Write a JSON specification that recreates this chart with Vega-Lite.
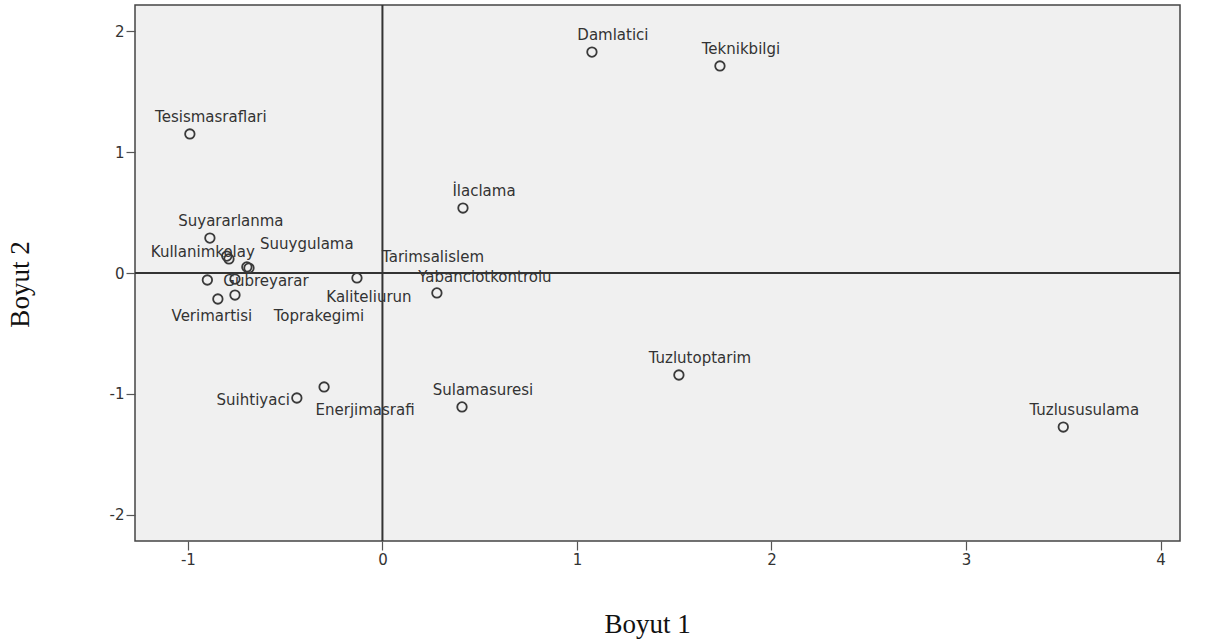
{
  "$schema": "https://vega.github.io/schema/vega-lite/v6.json",
  "width": 1045,
  "height": 536,
  "autosize": {"type": "none"},
  "padding": {"left": 135, "top": 5, "right": 31, "bottom": 101},
  "background": "white",
  "config": {
    "view": {"fill": "#f0f0f0", "stroke": "#444444", "strokeWidth": 1.5},
    "axis": {
      "grid": false, "domain": false,
      "tickColor": "#555555", "tickSize": 9, "tickWidth": 1.2,
      "labelFont": "DejaVu Sans", "labelFontSize": 15, "labelColor": "#333333", "labelPadding": 2,
      "labelExpr": "replace(datum.label, '\u2212', '-')",
      "titleFont": "Liberation Serif", "titleFontSize": 27, "titleFontWeight": "normal", "titleColor": "#111111"
    }
  },
  "data": {"values": [
    {"name": "Damlatici", "x": 1.077, "y": 1.826},
    {"name": "Teknikbilgi", "x": 1.735, "y": 1.711},
    {"name": "Tesismasraflari", "x": -0.99, "y": 1.149},
    {"name": "İlaclama", "x": 0.414, "y": 0.537},
    {"name": "Suyararlanma", "x": -0.887, "y": 0.289},
    {"name": "Kullanimkolay", "x": -0.80, "y": 0.140},
    {"name": "", "x": -0.789, "y": 0.116},
    {"name": "Suuygulama", "x": -0.697, "y": 0.050},
    {"name": "Tarimsalislem", "x": -0.686, "y": 0.041},
    {"name": "", "x": -0.90, "y": -0.058},
    {"name": "Gubreyarar", "x": -0.758, "y": -0.050},
    {"name": "Verimartisi", "x": -0.846, "y": -0.215},
    {"name": "Toprakegimi", "x": -0.758, "y": -0.182},
    {"name": "Kaliteliurun", "x": -0.131, "y": -0.041},
    {"name": "Yabanciotkontrolu", "x": 0.280, "y": -0.165},
    {"name": "Tuzlutoptarim", "x": 1.524, "y": -0.843},
    {"name": "Suihtiyaci", "x": -0.44, "y": -1.033},
    {"name": "Enerjimasrafi", "x": -0.30, "y": -0.942},
    {"name": "Sulamasuresi", "x": 0.409, "y": -1.107},
    {"name": "Tuzlususulama", "x": 3.50, "y": -1.273}
  ]},
  "encoding": {
    "x": {"field": "x", "type": "quantitative",
      "scale": {"domain": [-1.272, 4.1], "nice": false, "zero": false},
      "axis": {"values": [-1, 0, 1, 2, 3, 4], "title": "Boyut 1", "titleX": 512, "titleY": 91, "titleBaseline": "alphabetic", "titleAlign": "center"}},
    "y": {"field": "y", "type": "quantitative",
      "scale": {"domain": [-2.215, 2.215], "nice": false, "zero": false},
      "axis": {"values": [-2, -1, 0, 1, 2], "title": "Boyut 2", "titleX": -107, "titleY": 279, "titleAngle": -90, "titleBaseline": "alphabetic", "titleAlign": "center"}}
  },
  "layer": [
    {"data": {"values": [{"v": 0}]}, "mark": {"type": "rule", "color": "#333333", "strokeWidth": 2},
     "encoding": {"x": {"field": "v", "type": "quantitative"}, "y": null}},
    {"data": {"values": [{"v": 0}]}, "mark": {"type": "rule", "color": "#333333", "strokeWidth": 2},
     "encoding": {"y": {"field": "v", "type": "quantitative"}, "x": null}},
    {"mark": {"type": "point", "shape": "circle", "filled": false, "size": 90, "stroke": "#3a3a3a", "strokeWidth": 1.8, "opacity": 1}},
    {"transform": [{"filter": {"field": "name", "oneOf": ["Damlatici", "Teknikbilgi", "Tesismasraflari", "İlaclama", "Suyararlanma", "Tuzlutoptarim", "Sulamasuresi", "Tuzlususulama"]}}],
     "mark": {"type": "text", "font": "DejaVu Sans", "fontSize": 15, "color": "#333333", "baseline": "middle", "align": "center", "dx": 21, "dy": -17},
     "encoding": {"text": {"field": "name"}}},
    {"transform": [{"filter": {"field": "name", "equal": "Kullanimkolay"}}],
     "mark": {"type": "text", "font": "DejaVu Sans", "fontSize": 15, "color": "#333333", "baseline": "middle", "align": "center", "dx": -24, "dy": -4},
     "encoding": {"text": {"field": "name"}}},
    {"transform": [{"filter": {"field": "name", "equal": "Suuygulama"}}],
     "mark": {"type": "text", "font": "DejaVu Sans", "fontSize": 15, "color": "#333333", "baseline": "middle", "align": "center", "dx": 60, "dy": -23},
     "encoding": {"text": {"field": "name"}}},
    {"transform": [{"filter": {"field": "name", "equal": "Tarimsalislem"}}],
     "mark": {"type": "text", "font": "DejaVu Sans", "fontSize": 15, "color": "#333333", "baseline": "middle", "align": "center", "dx": 184, "dy": -11},
     "encoding": {"text": {"field": "name"}}},
    {"transform": [{"filter": {"field": "name", "equal": "Yabanciotkontrolu"}}],
     "mark": {"type": "text", "font": "DejaVu Sans", "fontSize": 15, "color": "#333333", "baseline": "middle", "align": "center", "dx": 48, "dy": -16},
     "encoding": {"text": {"field": "name"}}},
    {"transform": [{"filter": {"field": "name", "equal": "Gubreyarar"}}],
     "mark": {"type": "text", "font": "DejaVu Sans", "fontSize": 15, "color": "#333333", "baseline": "middle", "align": "center", "dx": 31, "dy": 2},
     "encoding": {"text": {"field": "name"}}},
    {"transform": [{"filter": {"field": "name", "equal": "Kaliteliurun"}}],
     "mark": {"type": "text", "font": "DejaVu Sans", "fontSize": 15, "color": "#333333", "baseline": "middle", "align": "center", "dx": 12, "dy": 19},
     "encoding": {"text": {"field": "name"}}},
    {"transform": [{"filter": {"field": "name", "equal": "Verimartisi"}}],
     "mark": {"type": "text", "font": "DejaVu Sans", "fontSize": 15, "color": "#333333", "baseline": "middle", "align": "center", "dx": -6, "dy": 17},
     "encoding": {"text": {"field": "name"}}},
    {"transform": [{"filter": {"field": "name", "equal": "Toprakegimi"}}],
     "mark": {"type": "text", "font": "DejaVu Sans", "fontSize": 15, "color": "#333333", "baseline": "middle", "align": "center", "dx": 84, "dy": 21},
     "encoding": {"text": {"field": "name"}}},
    {"transform": [{"filter": {"field": "name", "equal": "Suihtiyaci"}}],
     "mark": {"type": "text", "font": "DejaVu Sans", "fontSize": 15, "color": "#333333", "baseline": "middle", "align": "right", "dx": -7, "dy": 2},
     "encoding": {"text": {"field": "name"}}},
    {"transform": [{"filter": {"field": "name", "equal": "Enerjimasrafi"}}],
     "mark": {"type": "text", "font": "DejaVu Sans", "fontSize": 15, "color": "#333333", "baseline": "middle", "align": "center", "dx": 41, "dy": 23},
     "encoding": {"text": {"field": "name"}}}
  ]
}
